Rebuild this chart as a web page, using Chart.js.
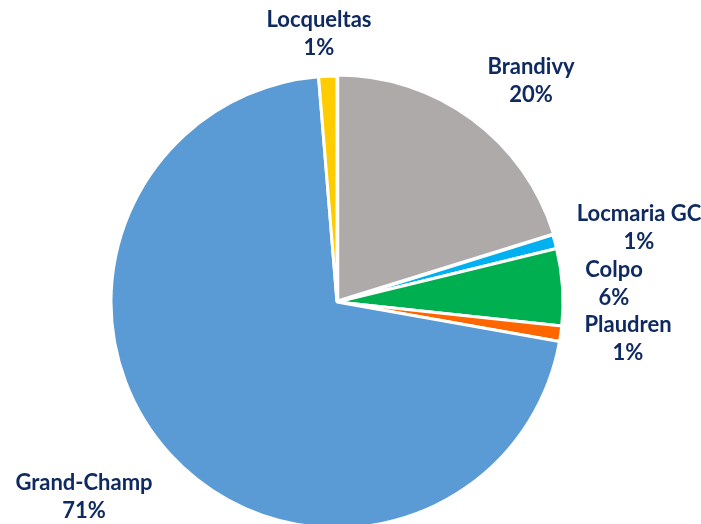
<!DOCTYPE html>
<html>
<head>
<meta charset="utf-8">
<script src="https://cdn.jsdelivr.net/npm/chart.js@4.4.1/dist/chart.umd.min.js"></script>
<style>
  html, body { margin: 0; padding: 0; background: #ffffff; overflow: hidden; }
  #wrap { width: 701px; height: 532px; position: relative; }
</style>
</head>
<body>
<div id="wrap"><canvas id="pie"></canvas></div>
<script>
/* ============== Data ============== */

const communes = ["Brandivy", "Locmaria GC", "Colpo", "Plaudren", "Grand-Champ", "Locqueltas"];
const shares = [20.2, 1.0, 5.5, 1.1, 70.9, 1.3];
const sliceColors = ["#AEAAAA", "#00B0F0", "#00B050", "#FF6600", "#5B9BD5", "#FFCC00"];
const sliceOffsets = [5, 0, 0, 0, 0, 0];

// where each two-line label sits (centre of the text block)
const labelAnchors = [
    [531, 81], [639, 228], [614, 284], [628, 339], [84, 497], [319, 34]
];

/* ============== Label plugin ============== */

/**
 * Draws "name / xx%" under each other, like the excel best-fit labels.
 */
const pieLabels = {
    id: "pieLabels",
    afterDatasetsDraw(chart) {
        const ctx = chart.ctx;
        const data = chart.data.datasets[0].data;
        ctx.save();
        ctx.fillStyle = "#0F2A60";
        ctx.font = "bold 22px Lato, 'Open Sans', sans-serif";
        ctx.textAlign = "center";
        ctx.textBaseline = "middle";
        chart.data.labels.forEach((name, i) => {
            const [x, y] = labelAnchors[i];
            ctx.fillText(name, x, y - 14);
            ctx.fillText(Math.round(data[i]) + "%", x, y + 14);
        });
        ctx.restore();
    }
};

/* ============== Render ============== */

new Chart(document.getElementById("pie"), {
    type: "pie",
    data: {
        labels: communes,
        datasets: [{
            data: shares,
            backgroundColor: sliceColors,
            borderColor: "#ffffff",
            borderWidth: 3,
            offset: sliceOffsets,
            hoverOffset: 0
        }]
    },
    options: {
        responsive: true,
        maintainAspectRatio: false,
        animation: false,
        layout: {
            padding: {left: 107, top: 72, right: 134, bottom: 0}
        },
        plugins: {
            legend: {display: false},
            tooltip: {enabled: false}
        }
    },
    plugins: [pieLabels]
});
</script>
</body>
</html>
